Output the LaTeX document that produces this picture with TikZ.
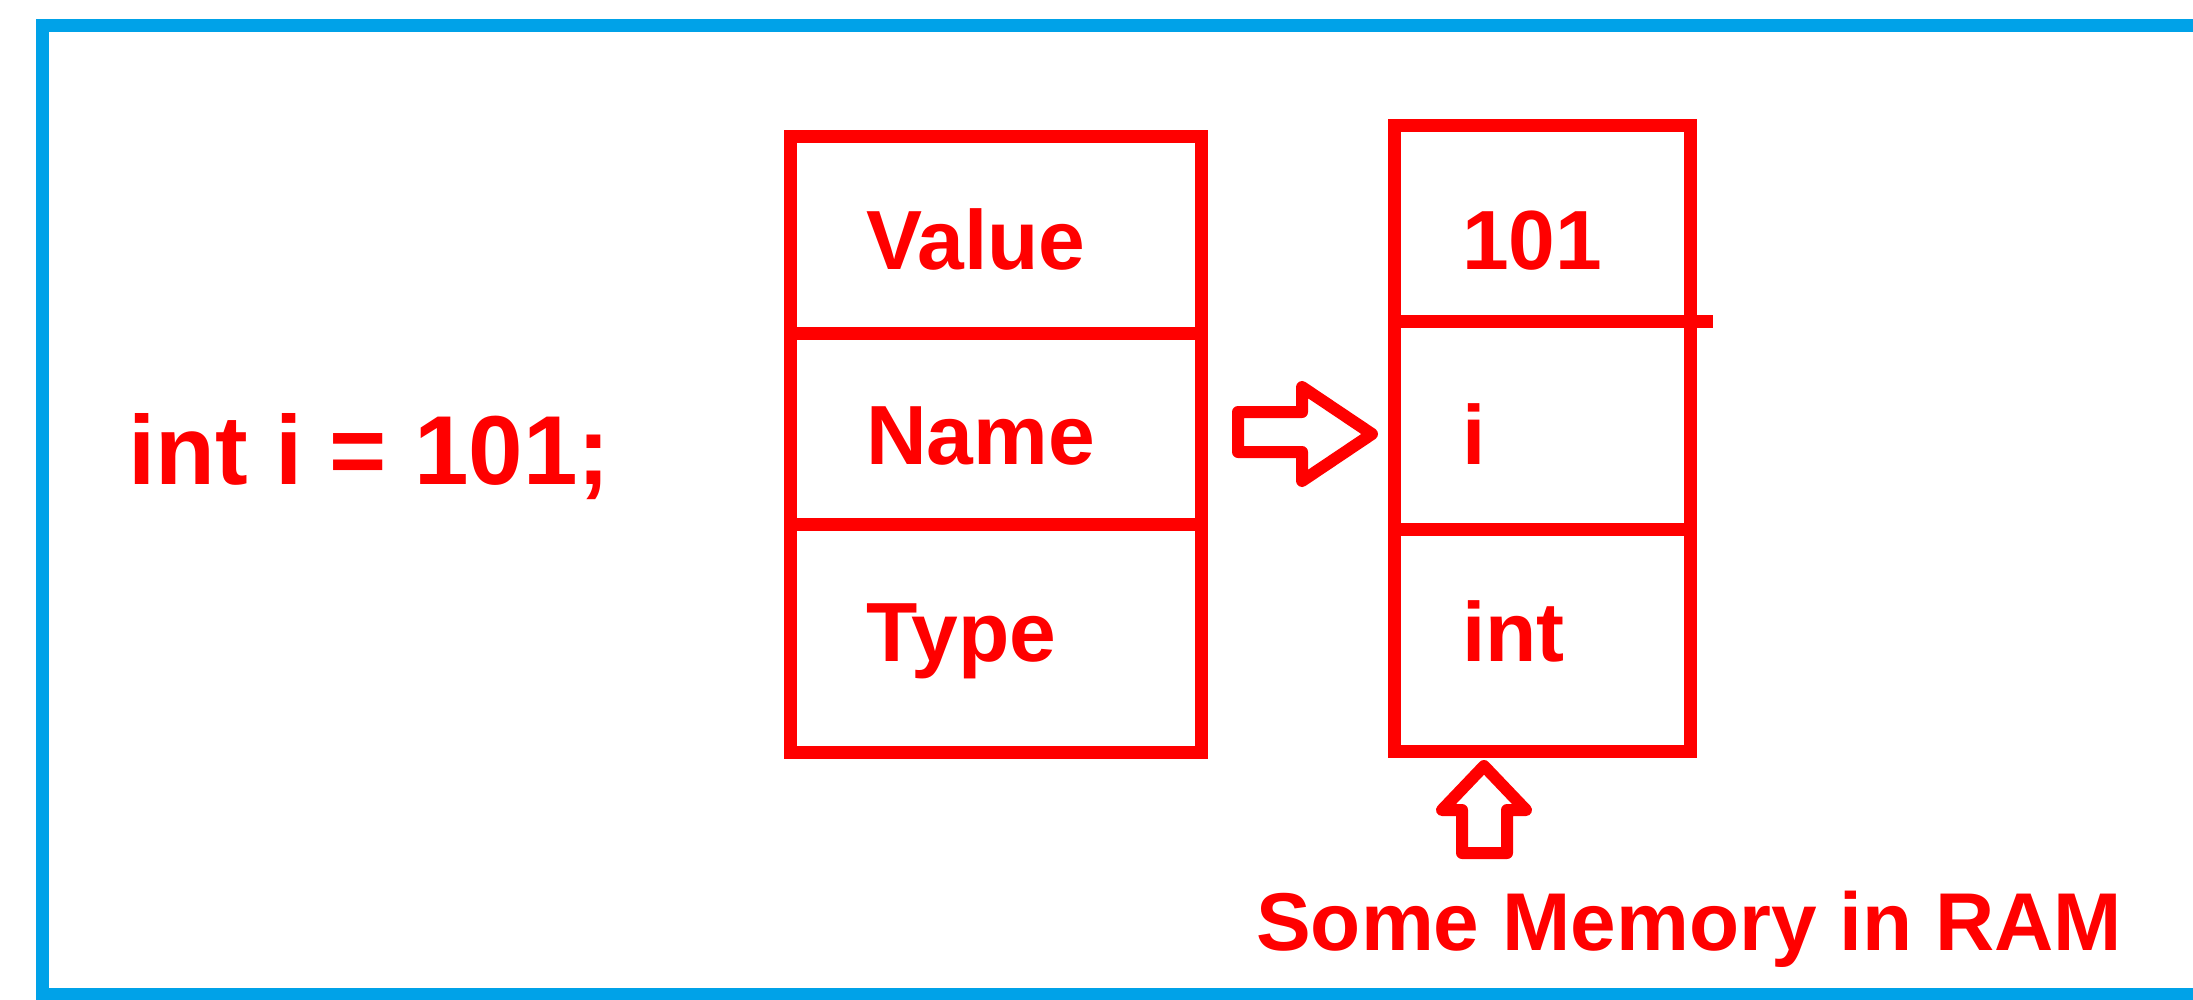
\documentclass[tikz,border=0pt]{standalone}
\usepackage{fontspec}
\setmainfont{Liberation Sans}
\definecolor{frameblue}{HTML}{00A2E8}
\definecolor{boxred}{HTML}{FF0000}
\begin{document}
\begin{tikzpicture}[x=1pt,y=-1pt,
  redline/.style={draw=boxred, line width=13pt, line join=miter},
  arrowline/.style={draw=boxred, line width=12pt, line join=round},
  lbl/.style={anchor=base west, inner sep=0pt, text=boxred, font=\fontsize{84}{100}\selectfont\bfseries},
  code/.style={anchor=base west, inner sep=0pt, text=boxred, font=\fontsize{98}{116}\selectfont\bfseries},
  note/.style={anchor=base west, inner sep=0pt, text=boxred, font=\fontsize{82}{98}\selectfont\bfseries}]
\useasboundingbox (0,0) rectangle (2193,999);
\clip (0,0) rectangle (2193,999);
\fill[white] (0,0) rectangle (2193,999);
% outer frame
\draw[draw=frameblue, line width=13pt] (42,25) rectangle (2240,994);
% code line
\node[code] (decl) at (128,484) {int i = 101;};
% left box
\draw[redline] (790,136) rectangle (1201,752);
\draw[redline] (790,333) -- (1201,333);
\draw[redline] (790,524) -- (1201,524);
\node[lbl] (value) at (866,269) {Value};
\node[lbl] (name) at (866,464) {Name};
\node[lbl] (type) at (866,661) {Type};
% right box
\draw[redline] (1394,125) rectangle (1690,751);
\draw[redline] (1394,321) -- (1713,321);
\draw[redline] (1394,529) -- (1690,529);
\node[lbl] (v101) at (1462,269) {101};
\node[lbl] (vi) at (1462,464) {i};
\node[lbl] (vint) at (1462,661) {int};
% hollow right arrow
\draw[arrowline] (1238,412) -- (1302,412) -- (1302,387) -- (1372,434) -- (1302,481) -- (1302,452) -- (1238,452) -- cycle;
% hollow up arrow
\draw[arrowline] (1462,853) -- (1462,810) -- (1442,810) -- (1484,766) -- (1526,810) -- (1507,810) -- (1507,853) -- cycle;
% caption
\node[note] (ram) at (1256,950) {Some Memory in RAM};
\end{tikzpicture}
\end{document}
